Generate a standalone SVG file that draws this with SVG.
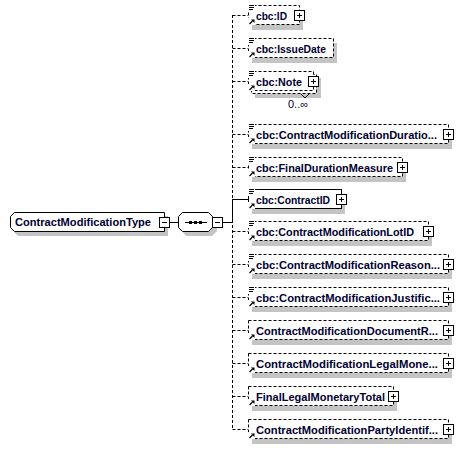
<svg xmlns="http://www.w3.org/2000/svg" xmlns:xlink="http://www.w3.org/1999/xlink" width="463" height="450" viewBox="0 0 463 450">
<style>
.box{fill:#fff;stroke:#000;stroke-width:1}
.opt{stroke-dasharray:3,2}
.sh{fill:#c4c4c4}
.ln{fill:none;stroke:#000;stroke-width:1}
.lbl{font-family:"Liberation Sans",Arial,sans-serif;font-weight:bold;font-size:11.5px;fill:#000033}
.occ{font-family:"Liberation Sans",Arial,sans-serif;font-size:10.5px;fill:#000033}
</style>
<defs>
<g id="plus"><rect x="-4.5" y="-4.5" width="10" height="10" fill="#fff" stroke="#000"/><path d="M-2 0.5H3M0.5 -2V3" stroke="#000"/></g>
<g id="minus"><rect x="-4.5" y="-4.5" width="10" height="10" fill="#fff" stroke="#000"/><path d="M-2 0.5H3" stroke="#000"/></g>
<g id="doc"><rect x="-1" y="-2" width="7" height="8" fill="#fff"/><path d="M0 -0.5H5M0 1.5H5M0 3.5H4" stroke="#000"/></g>
<g id="ref"><rect x="-1" y="0" width="7" height="7" fill="#fff"/><path d="M0.5 6 L3.5 3" stroke="#000" stroke-width="1.2"/><path d="M2 1.5 L5.5 1.5 L5.5 5 Z" fill="#000"/></g>
</defs>

<g id="connectors">
<path class="ln" d="M169.5 222.5H178.5"/>
<path class="ln" d="M222 222.5H232.5"/>
<path class="ln opt" d="M232.5 15V429.5"/>
<path class="ln" d="M232.5 199V223"/>
<path class="ln opt" d="M232.5 15.5H248"/>
<path class="ln opt" d="M232.5 48.5H248"/>
<path class="ln opt" d="M232.5 81.5H248"/>
<path class="ln opt" d="M232.5 134.5H248"/>
<path class="ln opt" d="M232.5 167.5H248"/>
<path class="ln" d="M232.5 199.5H248"/>
<path class="ln opt" d="M232.5 231.5H248"/>
<path class="ln opt" d="M232.5 264.5H248"/>
<path class="ln opt" d="M232.5 297.5H248"/>
<path class="ln opt" d="M232.5 330.5H248"/>
<path class="ln opt" d="M232.5 363.5H248"/>
<path class="ln opt" d="M232.5 396.5H248"/>
<path class="ln opt" d="M232.5 429.5H248"/>
</g>

<g id="root">
<polygon class="sh" points="18,216 168,216 168,236 18,236 14,232 14,220"/>
<polygon class="box" points="14.5,212.5 164.5,212.5 164.5,231.5 14.5,231.5 10.5,227.5 10.5,216.5"/>
<text class="lbl" x="15" y="226" textLength="136" lengthAdjust="spacingAndGlyphs">ContractModificationType</text>
<use xlink:href="#minus" transform="translate(164,222)"/>
</g>

<g id="sequence">
<polygon class="sh" points="186,216 212,216 217,221 217,231 212,236 186,236 182,231 182,221"/>
<polygon class="box" points="182.5,212.5 208.5,212.5 212.5,216.5 212.5,227.5 208.5,231.5 182.5,231.5 178.5,227.5 178.5,216.5"/>
<path class="ln" d="M185 222.5H207"/>
<rect x="189" y="221" width="3" height="3" fill="#000"/>
<rect x="194" y="221" width="3" height="3" fill="#000"/>
<rect x="199" y="221" width="3" height="3" fill="#000"/>
<use xlink:href="#minus" transform="translate(217,222)"/>
</g>

<g id="n-ID">
<rect class="sh" x="252" y="10" width="51" height="20"/>
<rect class="box opt" x="248.5" y="5.5" width="51" height="19"/>
<use xlink:href="#doc" transform="translate(249,6)"/>
<use xlink:href="#ref" transform="translate(249,18)"/>
<text class="lbl" x="256" y="19.5" textLength="31" lengthAdjust="spacingAndGlyphs">cbc:ID</text>
<use xlink:href="#plus" transform="translate(299,15)"/>
</g>

<g id="n-IssueDate">
<rect class="sh" x="252" y="43" width="85" height="20"/>
<rect class="box opt" x="248.5" y="38.5" width="85" height="19"/>
<use xlink:href="#doc" transform="translate(249,39)"/>
<use xlink:href="#ref" transform="translate(249,51)"/>
<text class="lbl" x="256" y="52.5" textLength="70" lengthAdjust="spacingAndGlyphs">cbc:IssueDate</text>
</g>

<g id="n-Note">
<rect class="sh" x="255" y="78" width="66" height="20"/>
<rect class="box opt" x="251.5" y="74.5" width="65" height="19"/>
<rect class="box opt" x="248.5" y="71.5" width="65" height="19"/>
<use xlink:href="#doc" transform="translate(249,72)"/>
<use xlink:href="#ref" transform="translate(249,84)"/>
<text class="lbl" x="256" y="85.5" textLength="46" lengthAdjust="spacingAndGlyphs">cbc:Note</text>
<use xlink:href="#plus" transform="translate(313,81)"/>
<polyline class="ln" points="301,94 305,98 309,94"/>
<text class="occ" x="288" y="108" textLength="20" lengthAdjust="spacingAndGlyphs">0..∞</text>
</g>

<g id="n-Duration">
<rect class="sh" x="252" y="129" width="200" height="20"/>
<rect class="box opt" x="248.5" y="124.5" width="200" height="19"/>
<use xlink:href="#doc" transform="translate(249,125)"/>
<use xlink:href="#ref" transform="translate(249,137)"/>
<text class="lbl" x="256" y="138.5" textLength="181" lengthAdjust="spacingAndGlyphs">cbc:ContractModificationDuratio...</text>
<use xlink:href="#plus" transform="translate(448,134)"/>
</g>

<g id="n-FinalDuration">
<rect class="sh" x="252" y="162" width="154" height="20"/>
<rect class="box opt" x="248.5" y="157.5" width="154" height="19"/>
<use xlink:href="#doc" transform="translate(249,158)"/>
<use xlink:href="#ref" transform="translate(249,170)"/>
<text class="lbl" x="256" y="171.5" textLength="137" lengthAdjust="spacingAndGlyphs">cbc:FinalDurationMeasure</text>
<use xlink:href="#plus" transform="translate(402,167)"/>
</g>

<g id="n-ContractID">
<rect class="sh" x="252" y="194" width="93" height="20"/>
<rect class="box" x="248.5" y="189.5" width="93" height="19"/>
<use xlink:href="#doc" transform="translate(249,190)"/>
<use xlink:href="#ref" transform="translate(249,202)"/>
<text class="lbl" x="256" y="203.5" textLength="74" lengthAdjust="spacingAndGlyphs">cbc:ContractID</text>
<use xlink:href="#plus" transform="translate(341,199)"/>
</g>

<g id="n-LotID">
<rect class="sh" x="252" y="226" width="180" height="20"/>
<rect class="box opt" x="248.5" y="221.5" width="180" height="19"/>
<use xlink:href="#doc" transform="translate(249,222)"/>
<use xlink:href="#ref" transform="translate(249,234)"/>
<text class="lbl" x="256" y="235.5" textLength="158" lengthAdjust="spacingAndGlyphs">cbc:ContractModificationLotID</text>
<use xlink:href="#plus" transform="translate(428,231)"/>
</g>

<g id="n-Reason">
<rect class="sh" x="252" y="259" width="200" height="20"/>
<rect class="box opt" x="248.5" y="254.5" width="200" height="19"/>
<use xlink:href="#doc" transform="translate(249,255)"/>
<use xlink:href="#ref" transform="translate(249,267)"/>
<text class="lbl" x="256" y="268.5" textLength="184" lengthAdjust="spacingAndGlyphs">cbc:ContractModificationReason...</text>
<use xlink:href="#plus" transform="translate(448,264)"/>
</g>

<g id="n-Justification">
<rect class="sh" x="252" y="292" width="200" height="20"/>
<rect class="box opt" x="248.5" y="287.5" width="200" height="19"/>
<use xlink:href="#doc" transform="translate(249,288)"/>
<use xlink:href="#ref" transform="translate(249,300)"/>
<text class="lbl" x="256" y="301.5" textLength="184" lengthAdjust="spacingAndGlyphs">cbc:ContractModificationJustific...</text>
<use xlink:href="#plus" transform="translate(448,297)"/>
</g>

<g id="n-DocumentRef">
<rect class="sh" x="252" y="325" width="200" height="20"/>
<rect class="box opt" x="248.5" y="320.5" width="200" height="19"/>
<use xlink:href="#ref" transform="translate(249,333)"/>
<text class="lbl" x="256" y="334.5" textLength="182" lengthAdjust="spacingAndGlyphs">ContractModificationDocumentR...</text>
<use xlink:href="#plus" transform="translate(448,330)"/>
</g>

<g id="n-LegalMonetary">
<rect class="sh" x="252" y="358" width="200" height="20"/>
<rect class="box opt" x="248.5" y="353.5" width="200" height="19"/>
<use xlink:href="#ref" transform="translate(249,366)"/>
<text class="lbl" x="256" y="367.5" textLength="182" lengthAdjust="spacingAndGlyphs">ContractModificationLegalMone...</text>
<use xlink:href="#plus" transform="translate(448,363)"/>
</g>

<g id="n-FinalLegalMonetaryTotal">
<rect class="sh" x="252" y="391" width="145" height="20"/>
<rect class="box opt" x="248.5" y="386.5" width="145" height="19"/>
<use xlink:href="#ref" transform="translate(249,399)"/>
<text class="lbl" x="256" y="400.5" textLength="129" lengthAdjust="spacingAndGlyphs">FinalLegalMonetaryTotal</text>
<use xlink:href="#plus" transform="translate(393,396)"/>
</g>

<g id="n-PartyIdentification">
<rect class="sh" x="252" y="424" width="200" height="20"/>
<rect class="box opt" x="248.5" y="419.5" width="200" height="19"/>
<use xlink:href="#ref" transform="translate(249,432)"/>
<text class="lbl" x="256" y="433.5" textLength="182" lengthAdjust="spacingAndGlyphs">ContractModificationPartyIdentif...</text>
<use xlink:href="#plus" transform="translate(448,429)"/>
</g>
</svg>
